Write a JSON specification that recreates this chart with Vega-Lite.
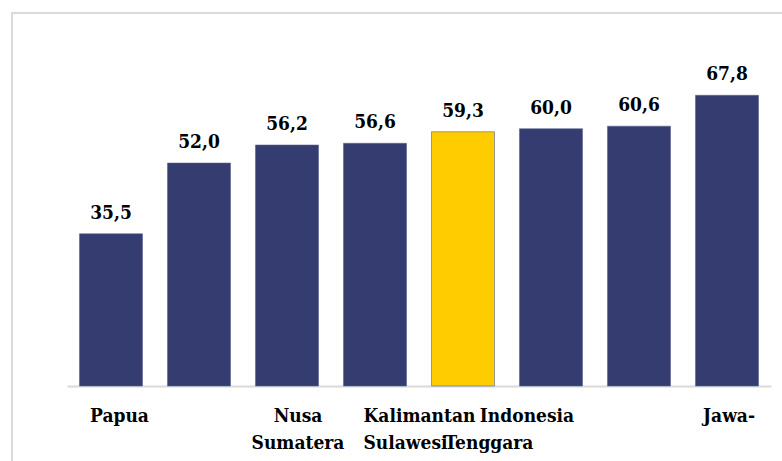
{
  "$schema": "https://vega.github.io/schema/vega-lite/v6.json",
  "width": 782,
  "height": 461,
  "autosize": {"type": "fit", "contains": "padding"},
  "padding": {"left": 12, "top": 13, "right": -1, "bottom": -1},
  "config": {
    "view": {"stroke": "#dadada", "strokeWidth": 2},
    "font": "DejaVu Serif Condensed",
    "locale": {"number": {"decimal": ",", "thousands": ".", "grouping": [3], "currency": ["", ""]}}
  },
  "data": {
    "values": [
      {"region": "Papua", "value": 35.5, "group": "other"},
      {"region": "Maluku", "value": 52.0, "group": "other"},
      {"region": "Sumatera", "value": 56.2, "group": "other"},
      {"region": "Sulawesi", "value": 56.6, "group": "other"},
      {"region": "Nusa Tenggara", "value": 59.3, "group": "highlight"},
      {"region": "Indonesia", "value": 60.0, "group": "other"},
      {"region": "Kalimantan", "value": 60.6, "group": "other"},
      {"region": "Jawa-Bali", "value": 67.8, "group": "other"}
    ]
  },
  "encoding": {
    "x": {
      "field": "region",
      "type": "nominal",
      "sort": null,
      "scale": {"range": [55, 759], "paddingInner": 0.284, "paddingOuter": 0.142},
      "axis": {
        "title": null,
        "orient": "bottom",
        "offset": -76,
        "domainColor": "#d9d9d9",
        "domainWidth": 2,
        "ticks": false,
        "tickSize": 0,
        "grid": false,
        "labelPadding": 20,
        "labelAngle": 0,
        "labelFont": "DejaVu Serif Condensed",
        "labelFontSize": 19,
        "labelFontWeight": "bold",
        "labelColor": "#000000",
        "labelLineHeight": 27,
        "labelOverlap": false,
        "labelBound": false,
        "labelLimit": 0,
        "labelAlign": {"condition": {"test": "datum.value == 'Sulawesi'", "value": "left"}, "value": "center"},
        "labelOffset": {"expr": "datum.value == 'Papua' ? 8.5 : datum.value == 'Sumatera' ? 11 : datum.value == 'Sulawesi' ? -11.5 : datum.value == 'Nusa Tenggara' ? 26 : datum.value == 'Indonesia' ? -24 : datum.value == 'Jawa-Bali' ? 2 : 0"},
        "labelExpr": "datum.value == 'Papua' ? 'Papua' : datum.value == 'Sumatera' ? ['Nusa', 'Sumatera'] : datum.value == 'Sulawesi' ? ['Kalimantan', 'Sulawesi'] : datum.value == 'Nusa Tenggara' ? ['', 'Tenggara'] : datum.value == 'Indonesia' ? 'Indonesia' : datum.value == 'Jawa-Bali' ? 'Jawa-' : ''"
      }
    },
    "y": {
      "field": "value",
      "type": "quantitative",
      "scale": {"domain": [0, 80], "range": [373, 30]},
      "axis": null
    }
  },
  "layer": [
    {
      "mark": {"type": "bar", "stroke": "#5a6192", "strokeWidth": 0.6},
      "encoding": {
        "color": {
          "field": "group",
          "type": "nominal",
          "scale": {"domain": ["other", "highlight"], "range": ["#353D70", "#FFCC00"]},
          "legend": null
        }
      }
    },
    {
      "mark": {"type": "text", "baseline": "alphabetic", "dy": -15, "font": "DejaVu Serif Condensed", "fontSize": 19, "fontWeight": "bold", "color": "#000000"},
      "encoding": {
        "text": {"field": "value", "type": "quantitative", "format": ".1f"}
      }
    }
  ]
}
